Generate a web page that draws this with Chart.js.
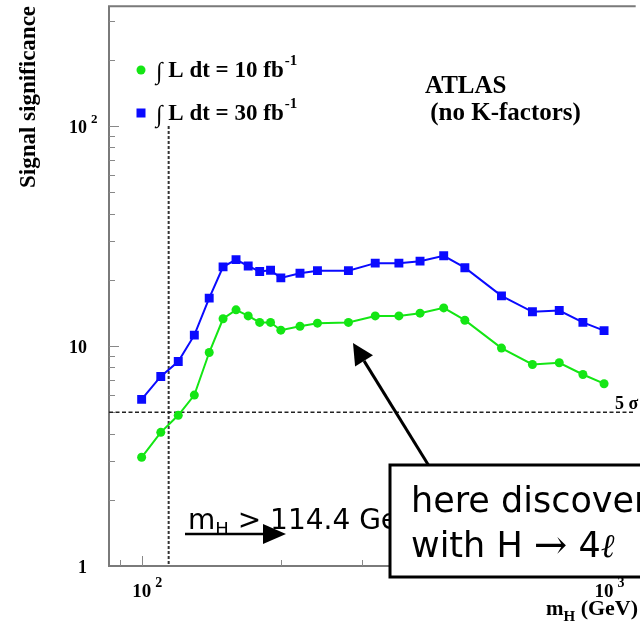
<!DOCTYPE html>
<html>
<head>
<meta charset="utf-8">
<script src="https://cdn.jsdelivr.net/npm/chart.js@4.4.0/dist/chart.umd.min.js"></script>
<style>
html, body { margin: 0; padding: 0; background: #fff; overflow: hidden; }
canvas { display: block; }
</style>
</head>
<body>
<canvas id="chart" width="640" height="624"></canvas>
<script>
// Higgs mass points (GeV) and signal significance for the two luminosities
var masses = [100, 110, 120, 130, 140, 150, 160, 170, 180, 190, 200, 220, 240, 280, 320, 360, 400, 450, 500, 600, 700, 800, 900, 1000];
var signif10 = [3.12, 4.05, 4.84, 5.98, 9.34, 13.3, 14.6, 13.7, 12.8, 12.8, 11.8, 12.3, 12.7, 12.8, 13.7, 13.7, 14.1, 14.9, 13.1, 9.78, 8.24, 8.39, 7.42, 6.74];
var signif30 = [5.72, 7.27, 8.5, 11.2, 16.5, 22.9, 24.7, 23.1, 21.8, 22.1, 20.4, 21.4, 22.0, 22.0, 23.8, 23.8, 24.3, 25.7, 22.7, 16.9, 14.3, 14.5, 12.8, 11.75];

var xTicks = [90, 100, 200, 300, 400, 500, 600, 700, 800, 900, 1000];
var yTicks = [2, 3, 4, 5, 6, 7, 8, 9, 10, 20, 30, 40, 50, 60, 70, 80, 90, 100, 200, 300];
var xMajor = [100, 1000];
var yMajor = [10, 100];
var xLabels = [{ v: 100, base: '10', exp: '2' }, { v: 1000, base: '10', exp: '3' }];
var yLabels = [{ v: 1, base: '1', exp: '' }, { v: 10, base: '10', exp: '' }, { v: 100, base: '10', exp: '2' }];
var lepLimit = 114.4;
var fiveSigma = 5;

var green = '#14e614';
var blue = '#0a0aff';
var serif = '"Liberation Serif", "Times New Roman", serif';
var hand = '"DejaVu Sans", sans-serif';

function toPoints(xs, ys) {
    return xs.map(function(x, i) { return { x: x, y: ys[i] }; });
}

// base text + raised exponent
function drawPow(ctx, base, exp, x, y, size, align) {
    ctx.font = 'bold ' + size + 'px ' + serif;
    var w = ctx.measureText(base).width;
    var x0 = align === 'center' ? x - w / 2 : (align === 'right' ? x - w : x);
    ctx.textAlign = 'left';
    ctx.fillText(base, x0, y);
    if (exp) {
        ctx.font = 'bold ' + Math.round(size * 0.72) + 'px ' + serif;
        ctx.fillText(exp, x0 + w + 4, y - size * 0.55);
    }
}

function drawArrow(ctx, x1, y1, x2, y2, headLen, headHalf, lw) {
    var dx = x2 - x1, dy = y2 - y1;
    var len = Math.sqrt(dx * dx + dy * dy);
    var ux = dx / len, uy = dy / len;
    var bx = x2 - ux * headLen, by = y2 - uy * headLen;
    ctx.strokeStyle = '#000';
    ctx.lineWidth = lw;
    ctx.setLineDash([]);
    ctx.beginPath();
    ctx.moveTo(x1, y1);
    ctx.lineTo(bx, by);
    ctx.stroke();
    ctx.fillStyle = '#000';
    ctx.beginPath();
    ctx.moveTo(x2, y2);
    ctx.lineTo(bx - uy * headHalf, by + ux * headHalf);
    ctx.lineTo(bx + uy * headHalf, by - ux * headHalf);
    ctx.closePath();
    ctx.fill();
}

function drawSegments(ctx, segs, x, y) {
    var cx = x;
    segs.forEach(function(s) {
        ctx.font = s.font;
        ctx.fillText(s.t, cx, y + (s.dy || 0));
        cx += ctx.measureText(s.t).width;
    });
    return cx;
}

var framePlugin = {
    id: 'frame',
    beforeDatasetsDraw: function(chart) {
        var ctx = chart.ctx, a = chart.chartArea;
        var xs = chart.scales.x, ys = chart.scales.y;
        ctx.save();
        // frame
        ctx.strokeStyle = '#7a7a7a';
        ctx.lineWidth = 2;
        ctx.beginPath();
        ctx.moveTo(a.right + 2, a.top);
        ctx.lineTo(a.left, a.top);
        ctx.lineTo(a.left, a.bottom);
        ctx.lineTo(a.right + 2, a.bottom);
        ctx.stroke();
        // inward ticks
        ctx.lineWidth = 1;
        ctx.strokeStyle = '#888';
        xTicks.forEach(function(v) {
            var px = Math.round(xs.getPixelForValue(v)) + 0.5;
            var len = xMajor.indexOf(v) >= 0 ? 10 : 6;
            ctx.beginPath();
            ctx.moveTo(px, a.bottom);
            ctx.lineTo(px, a.bottom - len);
            ctx.stroke();
        });
        yTicks.forEach(function(v) {
            var py = Math.round(ys.getPixelForValue(v)) + 0.5;
            var len = yMajor.indexOf(v) >= 0 ? 10 : 6;
            ctx.beginPath();
            ctx.moveTo(a.left, py);
            ctx.lineTo(a.left + len, py);
            ctx.stroke();
        });
        // LEP limit line
        var lx = xs.getPixelForValue(lepLimit);
        ctx.strokeStyle = '#333';
        ctx.lineWidth = 2;
        ctx.setLineDash([3, 2]);
        ctx.beginPath();
        ctx.moveTo(lx, ys.getPixelForValue(100));
        ctx.lineTo(lx, a.bottom);
        ctx.stroke();
        // 5 sigma line
        var sy = ys.getPixelForValue(fiveSigma);
        ctx.strokeStyle = '#222';
        ctx.lineWidth = 1.5;
        ctx.setLineDash([4, 2.5]);
        ctx.beginPath();
        ctx.moveTo(a.left, sy);
        ctx.lineTo(a.right, sy);
        ctx.stroke();
        ctx.restore();
    },
    afterDraw: function(chart) {
        var ctx = chart.ctx, a = chart.chartArea;
        var xs = chart.scales.x, ys = chart.scales.y;
        ctx.save();
        ctx.fillStyle = '#000';
        ctx.textBaseline = 'alphabetic';

        // axis tick labels
        yLabels.forEach(function(l) {
            drawPow(ctx, l.base, l.exp, 87, ys.getPixelForValue(l.v) + 7, 18, 'right');
        });
        xLabels.forEach(function(l) {
            drawPow(ctx, l.base, l.exp, xs.getPixelForValue(l.v), 597, 19, 'center');
        });

        // y title
        ctx.save();
        ctx.translate(35, 97);
        ctx.rotate(-Math.PI / 2);
        ctx.font = 'bold 23px ' + serif;
        ctx.textAlign = 'center';
        ctx.fillText('Signal significance', 0, 0);
        ctx.restore();

        // x title
        ctx.textAlign = 'left';
        drawSegments(ctx, [
            { t: 'm', font: 'bold 21px ' + serif },
            { t: 'H', font: 'bold 15px ' + serif, dy: 6 },
            { t: ' (GeV)', font: 'bold 22px ' + serif }
        ], 546, 615);

        // 5 sigma label
        ctx.font = 'bold 18px ' + serif;
        ctx.fillText('5 \u03c3', 615, 409);

        // legend
        ctx.fillStyle = green;
        ctx.beginPath();
        ctx.arc(141, 70, 4.5, 0, Math.PI * 2);
        ctx.fill();
        ctx.fillStyle = blue;
        ctx.fillRect(136.5, 108.5, 9, 9);
        ctx.fillStyle = '#000';
        [{ y: 77, t: ' L dt = 10 fb' }, { y: 120, t: ' L dt = 30 fb' }].forEach(function(r) {
            var end = drawSegments(ctx, [
                { t: '\u222b', font: '24px ' + serif, dy: 2 },
                { t: r.t, font: 'bold 23px ' + serif }
            ], 156, r.y);
            ctx.font = 'bold 15px ' + serif;
            ctx.fillText('-1', end + 1, r.y - 12);
        });

        // ATLAS label
        ctx.font = 'bold 25px ' + serif;
        ctx.fillText('ATLAS', 425, 93);
        ctx.fillText(' (no K-factors)', 424, 120);

        // LEP limit annotation
        drawSegments(ctx, [
            { t: 'm', font: '28px ' + hand },
            { t: 'H', font: '18px ' + hand, dy: 6 },
            { t: ' > 114.4 GeV', font: '28px ' + hand }
        ], 188, 529);
        drawArrow(ctx, 185, 534, 286, 534, 23, 10, 2.5);

        // discovery box with arrow
        drawArrow(ctx, 429, 466, 353, 343, 21, 10.5, 3);
        ctx.fillStyle = '#fff';
        ctx.fillRect(390, 465, 260, 112);
        ctx.strokeStyle = '#000';
        ctx.lineWidth = 3;
        ctx.strokeRect(390, 465, 260, 112);
        ctx.fillStyle = '#000';
        drawSegments(ctx, [{ t: 'here discovery', font: '35px ' + hand }], 411, 512);
        drawSegments(ctx, [
            { t: 'with H ', font: '35px ' + hand },
            { t: '\u2192', font: '40px "DejaVu Serif", serif', dy: 1 },
            { t: ' 4', font: '35px ' + hand },
            { t: '\u2113', font: 'italic 33px "DejaVu Serif", serif' }
        ], 411, 557);
        ctx.restore();
    }
};

new Chart(document.getElementById('chart'), {
    type: 'line',
    data: {
        datasets: [{
            label: '10 fb-1',
            data: toPoints(masses, signif10),
            borderColor: green,
            backgroundColor: green,
            borderWidth: 2,
            pointStyle: 'circle',
            pointRadius: 4.5,
            pointBorderWidth: 0,
            tension: 0
        }, {
            label: '30 fb-1',
            data: toPoints(masses, signif30),
            borderColor: blue,
            backgroundColor: blue,
            borderWidth: 2,
            pointStyle: 'rect',
            pointRadius: 6.3,
            pointBorderWidth: 0,
            tension: 0
        }]
    },
    options: {
        responsive: false,
        animation: false,
        devicePixelRatio: 1,
        layout: { padding: { top: 5, right: 0, left: 0, bottom: 0 } },
        plugins: { legend: { display: false }, tooltip: { enabled: false } },
        scales: {
            x: {
                type: 'logarithmic',
                min: 85,
                max: 1159,
                grid: { display: false },
                border: { display: false },
                ticks: { display: false },
                afterFit: function(s) { s.height = 58; }
            },
            y: {
                type: 'logarithmic',
                min: 1,
                max: 350,
                grid: { display: false },
                border: { display: false },
                ticks: { display: false },
                afterFit: function(s) { s.width = 109; }
            }
        }
    },
    plugins: [framePlugin]
});
</script>
</body>
</html>
